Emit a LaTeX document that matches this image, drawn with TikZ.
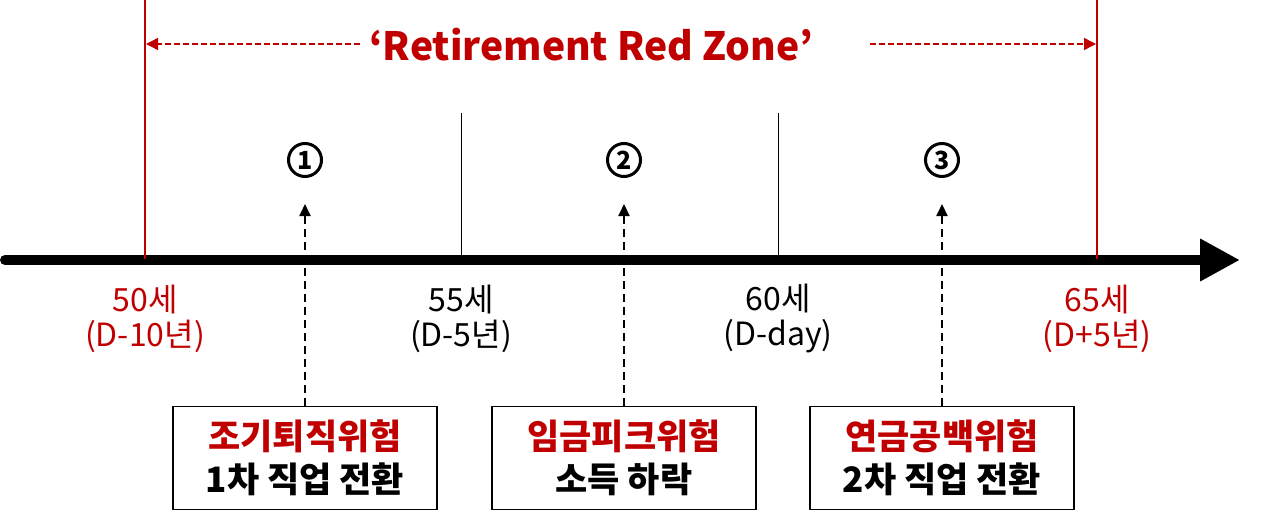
\documentclass[tikz,border=0pt]{standalone}
\usepackage{fontspec}
\setmainfont{Noto Sans CJK KR}
\usetikzlibrary{positioning}
\usetikzlibrary{arrows.meta}
\definecolor{zonered}{RGB}{192,0,0}

\tikzset{
    agelabel/.style={align=center, font=\fontsize{16}{17.5}\selectfont, inner sep=0pt},
    riskbox/.style={draw, line width=0.6pt, minimum width=132pt, minimum height=51.5pt,
        align=center, font=\bfseries\fontsize{17.5}{21.5}\selectfont},
    stepnum/.style={draw, circle, line width=1.5pt, minimum size=16.5pt, inner sep=0pt,
        font=\bfseries\fontsize{12.5}{12.5}\selectfont},
}

\begin{document}
\begin{tikzpicture}[x=0.5pt, y=0.5pt]
    \useasboundingbox (0,0) rectangle (1280,-524);

    % time axis
    \coordinate (start) at (5,-260);
    \coordinate (end) at (1240,-260);
    \draw[line width=5pt, line cap=round, -{Triangle[length=20pt, width=20pt]}] (start) -- (end);

    % red zone borders and inner ticks
    \foreach \x/\n in {145/50, 1097/65} {
        \coordinate (top\n) at (\x,0);
        \coordinate (foot\n) at (\x,-259);
        \draw[zonered, line width=1pt] (top\n) -- (foot\n);
    }
    \foreach \x/\n in {461/55, 778/60} {
        \coordinate (top\n) at (\x,-113);
        \coordinate (foot\n) at (\x,-256);
        \draw[line width=0.5pt] (top\n) -- (foot\n);
    }

    % ages
    \node[agelabel, text=zonered] (a50) at (145,-319) {50세\\(D-10년)};
    \node[agelabel] (a55) at (461,-319) {55세\\(D-5년)};
    \node[agelabel] (a60) at (778,-319) {60세\\(D-day)};
    \node[agelabel, text=zonered] (a65) at (1097,-319) {65세\\(D+5년)};

    % title with span arrows
    \node[text=zonered, font=\bfseries\fontsize{19.5}{19.5}\selectfont] (title) at (591,-45) {‘Retirement Red Zone’};
    \coordinate (zl) at (360,-44);
    \coordinate (zr) at (870,-44);
    \coordinate (zl50) at (146,-44);
    \coordinate (zr65) at (1096,-44);
    \draw[zonered, line width=0.7pt, dash pattern=on 3pt off 1.5pt, -{Triangle[length=6pt, width=6pt]}] (zl) -- (zl50);
    \draw[zonered, line width=0.7pt, dash pattern=on 3pt off 1.5pt, -{Triangle[length=6pt, width=6pt]}] (zr) -- (zr65);

    % risks
    \foreach \i/\x/\risk/\what in {1/305/조기퇴직위험/1차 직업 전환,
                                  2/624/임금피크위험/소득 하락,
                                  3/942/연금공백위험/2차 직업 전환} {
        \node[stepnum] (n\i) at (\x,-160) {\i};
        \node[riskbox] (b\i) at (\x,-458) {\textcolor{zonered}{\risk}\\\what};
        \coordinate (p\i) at (\x,-204);
        \draw[line width=1pt, dash pattern=on 4pt off 2.5pt, -{Triangle[length=6pt, width=5.5pt]}] (b\i.north) -- (p\i);
    }
\end{tikzpicture}
\end{document}
